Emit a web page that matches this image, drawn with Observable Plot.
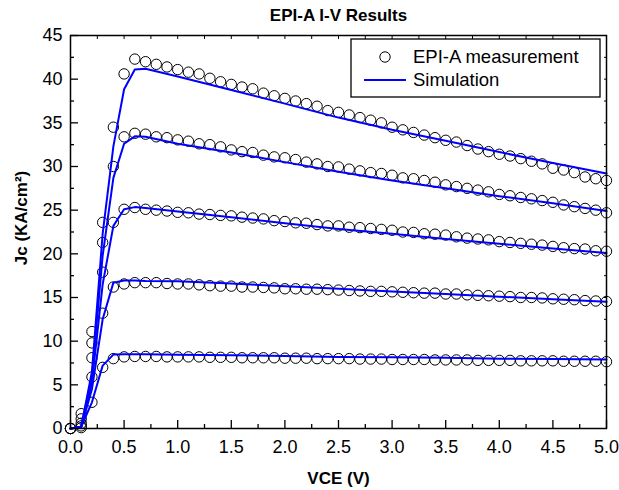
<!DOCTYPE html>
<html><head><meta charset="utf-8">
<script src="https://cdn.jsdelivr.net/npm/d3@7"></script>
<script src="https://cdn.jsdelivr.net/npm/@observablehq/plot@0.6"></script>
<style>
body{margin:0;background:#fff;}
#wrap{position:relative;width:619px;height:490px;font-family:"Liberation Sans",Arial,sans-serif;}
#legend{position:absolute;left:0;top:0;pointer-events:none;}
</style></head><body><div id="wrap"></div>
<script>
// Measured VCE (V)
const vce = [0.0,0.1,0.2,0.3,0.4,0.5,0.6,0.7,0.8,0.9,1.0,1.1,1.2,1.3,1.4,1.5,1.6,1.7,1.8,1.9,2.0,2.1,2.2,2.3,2.4,2.5,2.6,2.7,2.8,2.9,3.0,3.1,3.2,3.3,3.4,3.5,3.6,3.7,3.8,3.9,4.0,4.1,4.2,4.3,4.4,4.5,4.6,4.7,4.8,4.9,5.0];
// Measured Jc (KA/cm2), five curves
const measA = [0,1.7,11.1,23.6,34.5,40.6,42.3,42.0,41.7,41.4,41.1,40.8,40.6,40.1,39.7,39.4,39.1,38.9,38.4,38.1,37.8,37.5,37.2,36.9,36.4,36.2,35.9,35.6,35.3,35.0,34.5,34.2,33.9,33.6,33.3,33.0,32.8,32.4,32.0,31.7,31.4,31.2,30.9,30.6,30.3,29.8,29.6,29.3,28.8,28.6,28.4];
const measB = [0,1.1,9.8,21.3,30.0,33.4,33.8,33.7,33.4,33.3,33.05,32.9,32.6,32.5,32.25,31.9,31.7,31.6,31.3,31.1,31.0,30.8,30.5,30.3,30.0,29.95,29.7,29.5,29.3,29.2,29.0,28.7,28.6,28.4,28.2,27.9,27.7,27.5,27.3,27.1,26.8,26.65,26.45,26.3,26.1,25.9,25.6,25.4,25.2,25.0,24.7];
const measC = [0,0.6,8.1,17.9,23.6,25.1,25.3,25.1,25.0,24.9,24.75,24.7,24.55,24.5,24.4,24.35,24.2,24.1,24.0,23.8,23.7,23.55,23.5,23.35,23.2,23.2,23.05,23.0,22.9,22.8,22.7,22.5,22.45,22.3,22.25,22.15,21.95,21.8,21.7,21.6,21.4,21.3,21.2,21.1,21.0,20.85,20.7,20.6,20.55,20.35,20.3];
const measD = [0,0.3,5.9,13.2,16.2,16.55,16.7,16.7,16.7,16.6,16.55,16.55,16.45,16.35,16.3,16.3,16.2,16.2,16.15,16.1,16.0,16.0,15.95,15.95,15.9,15.85,15.8,15.75,15.7,15.7,15.65,15.6,15.55,15.5,15.5,15.4,15.4,15.3,15.25,15.2,15.15,15.1,15.0,15.0,14.95,14.85,14.8,14.75,14.65,14.6,14.55];
const measE = [0,0.1,3.0,7.0,8.0,8.2,8.25,8.25,8.25,8.2,8.2,8.2,8.2,8.15,8.15,8.15,8.1,8.1,8.1,8.1,8.05,8.05,8.05,8.0,8.0,8.0,8.0,7.95,7.95,7.95,7.9,7.9,7.9,7.9,7.85,7.85,7.85,7.85,7.8,7.8,7.8,7.8,7.75,7.75,7.75,7.75,7.7,7.7,7.7,7.7,7.65];
// Simulation
const simV = [0.0,0.1,0.2,0.3,0.4,0.5,0.6,0.7,1.0,1.5,2.0,2.5,3.0,3.5,4.0,4.5,5.0];
const simA = [0,0.2,6.5,22.3,32.3,38.85,41.1,41.2,40.3,38.75,37.2,35.6,34.2,32.95,31.65,30.4,29.2];
const simB = [0,0.2,6.0,19.8,28.7,32.6,33.45,33.4,32.6,31.6,30.5,29.4,28.4,27.5,26.6,25.8,24.9];
const simC = [0,0.2,5.3,16.5,23.2,25.1,25.35,25.25,24.85,24.2,23.5,22.85,22.3,21.7,21.15,20.6,20.1];
const simD = [0,0.2,4.5,12.5,16.7,16.95,16.95,16.9,16.85,16.6,16.3,16.0,15.7,15.4,15.1,14.8,14.5];
const simE = [0,0.2,3.0,7.2,8.46,8.5,8.5,8.5,8.45,8.4,8.3,8.2,8.15,8.1,8.0,7.95,7.9];

const xTicks = [0,0.5,1,1.5,2,2.5,3,3.5,4,4.5,5];
const xMinor = [0.25,0.75,1.25,1.75,2.25,2.75,3.25,3.75,4.25,4.75];
const yTicks = [0,5,10,15,20,25,30,35,40,45];
const yMinor = [2.5,7.5,12.5,17.5,22.5,27.5,32.5,37.5,42.5];

const titleText = "EPI-A I-V Results";
const xLabel = "VCE (V)";
const yLabel = "Jc (KA/cm\u00B2)";
const legendLabels = ["EPI-A measurement", "Simulation"];

const measSeries = [measA, measB, measC, measD, measE];
const simSeries = [simA, simB, simC, simD, simE];
const meas = [];
measSeries.forEach((arr, k) => arr.forEach((j, i) => meas.push({v: vce[i], j, s: k})));
const sim = [];
simSeries.forEach((arr, k) => arr.forEach((j, i) => sim.push({v: simV[i], j, s: k})));

const font = "Liberation Sans, Arial, sans-serif";
const none = () => "";

const chart = Plot.plot({
  width: 619, height: 490,
  marginLeft: 70, marginRight: 13, marginTop: 35, marginBottom: 62,
  style: {fontFamily: font, fontSize: "18px", background: "#fff", color: "#000", overflow: "visible"},
  x: {domain: [0, 5]},
  y: {domain: [0, 45]},
  marks: [
    Plot.dot(meas, {x: "v", y: "j", r: 5.2, stroke: "#000", strokeWidth: 1, fill: "none"}),
    Plot.line(sim, {x: "v", y: "j", z: "s", stroke: "#0000ff", strokeWidth: 2}),
    Plot.axisX(xTicks, {anchor: "bottom", tickSize: -8, tickPadding: 20, tickFormat: d3.format(".1f"), label: null, strokeWidth: 1.3}),
    Plot.axisX(xMinor, {anchor: "bottom", tickSize: -4, tickFormat: none, label: null, strokeWidth: 1.3}),
    Plot.axisX(xTicks.concat(xMinor), {anchor: "top", tickSize: -3, tickFormat: none, label: null}),
    Plot.axisY(yTicks, {anchor: "left", tickSize: -8, tickPadding: 16, tickFormat: d3.format("d"), label: null, strokeWidth: 1.3}),
    Plot.axisY(yMinor, {anchor: "left", tickSize: -4, tickFormat: none, label: null, strokeWidth: 1.3}),
    Plot.axisY(yTicks.concat(yMinor), {anchor: "right", tickSize: -3, tickFormat: none, label: null}),
    Plot.frame({stroke: "#000", strokeWidth: 1.5}),
    Plot.text([titleText], {frameAnchor: "top", dy: -20, fontWeight: "bold", fontSize: 17, lineAnchor: "middle"}),
    Plot.text([xLabel], {frameAnchor: "bottom", dy: 50, fontWeight: "bold", fontSize: 17, lineAnchor: "middle"}),
    Plot.text([yLabel], {frameAnchor: "left", dx: -49, dy: -14, rotate: -90, fontWeight: "bold", fontSize: 17, lineAnchor: "middle", textAnchor: "middle"})
  ]
});
const wrap = document.getElementById("wrap");
wrap.appendChild(chart);

// Legend overlay
const leg = d3.select(wrap).append("svg").attr("id", "legend").attr("width", 619).attr("height", 490)
  .style("font-family", font);
leg.append("rect").attr("x", 351).attr("y", 39).attr("width", 249).attr("height", 58)
  .attr("fill", "#fff").attr("stroke", "#000").attr("stroke-width", 1.3);
leg.append("circle").attr("cx", 385).attr("cy", 57).attr("r", 5.2).attr("fill", "none").attr("stroke", "#000");
leg.append("line").attr("x1", 364).attr("x2", 406).attr("y1", 80).attr("y2", 80).attr("stroke", "#0000ff").attr("stroke-width", 2);
leg.append("text").attr("x", 413).attr("y", 57).attr("dy", "0.35em").attr("font-size", 18.5).text(legendLabels[0]);
leg.append("text").attr("x", 413).attr("y", 80).attr("dy", "0.35em").attr("font-size", 18.5).text(legendLabels[1]);
</script></body></html>
